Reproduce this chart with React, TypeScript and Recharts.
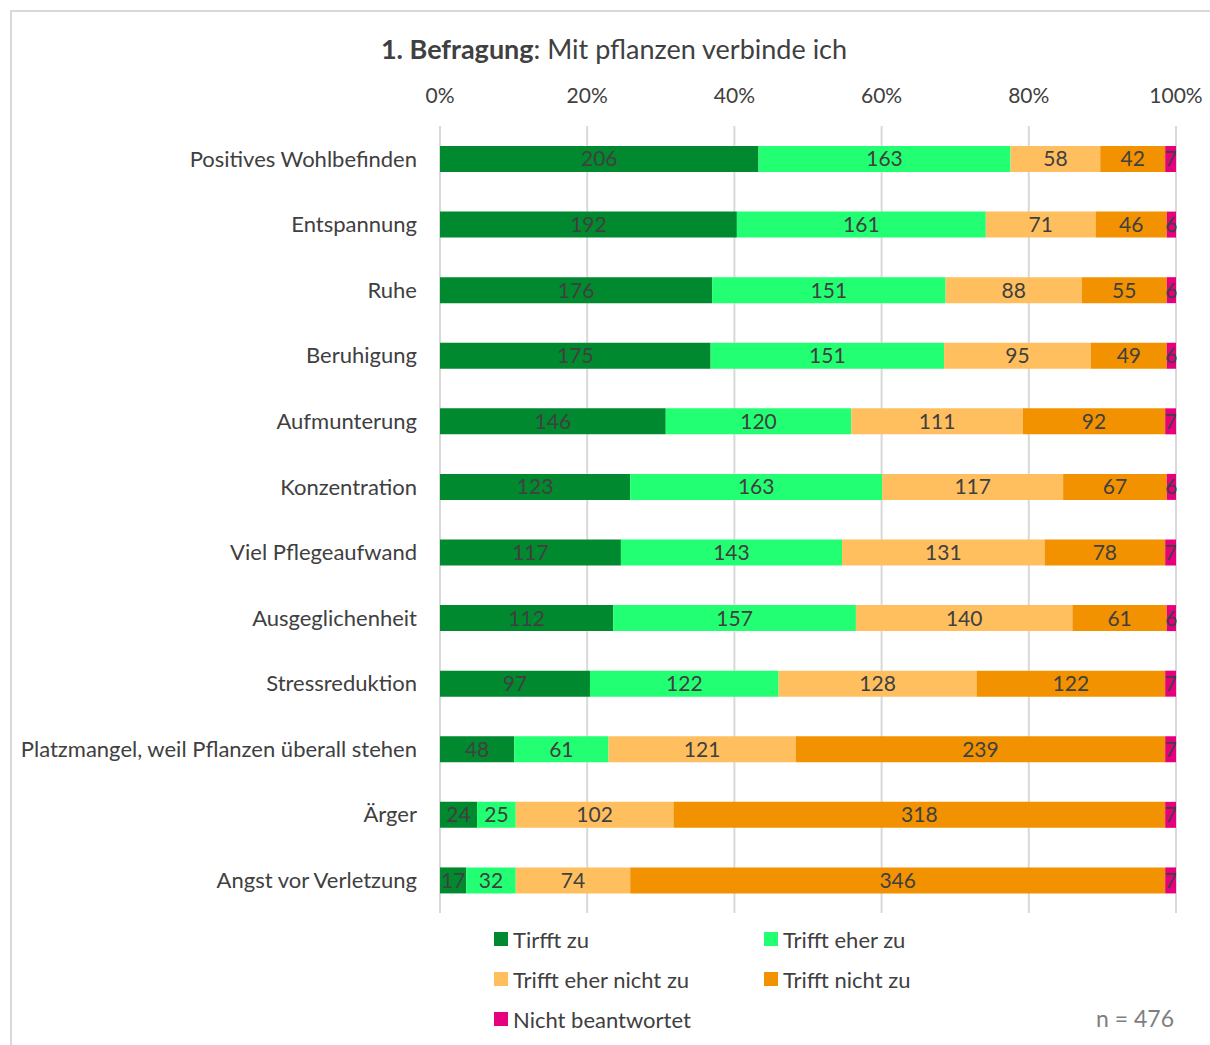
import React from 'react';
import { BarChart, Bar, XAxis, YAxis, CartesianGrid, LabelList, Legend } from 'recharts';

const categories = [
  'Positives Wohlbefinden',
  'Entspannung',
  'Ruhe',
  'Beruhigung',
  'Aufmunterung',
  'Konzentration',
  'Viel Pflegeaufwand',
  'Ausgeglichenheit',
  'Stressreduktion',
  'Platzmangel, weil Pflanzen überall stehen',
  'Ärger',
  'Angst vor Verletzung',
];

const triffZu = [206, 192, 176, 175, 146, 123, 117, 112, 97, 48, 24, 17];
const trifftEherZu = [163, 161, 151, 151, 120, 163, 143, 157, 122, 61, 25, 32];
const trifftEherNichtZu = [58, 71, 88, 95, 111, 117, 131, 140, 128, 121, 102, 74];
const trifftNichtZu = [42, 46, 55, 49, 92, 67, 78, 61, 122, 239, 318, 346];
const nichtBeantwortet = [7, 6, 6, 6, 7, 6, 7, 6, 7, 7, 7, 7];

const xTicks = [0, 0.2, 0.4, 0.6, 0.8, 1];

const series = [
  { key: 'a', name: 'Tirfft zu', color: '#00892F', values: triffZu },
  { key: 'b', name: 'Trifft eher zu', color: '#22FF72', values: trifftEherZu },
  { key: 'c', name: 'Trifft eher nicht zu', color: '#FFBF5F', values: trifftEherNichtZu },
  { key: 'd', name: 'Trifft nicht zu', color: '#F29200', values: trifftNichtZu },
  { key: 'e', name: 'Nicht beantwortet', color: '#E6007E', values: nichtBeantwortet },
];

const data = categories.map((name, i) => {
  const row: Record<string, string | number> = { name };
  series.forEach((s) => {
    row[s.key] = s.values[i];
  });
  return row;
});

const FONT = 'Lato, "Open Sans", "Noto Sans", sans-serif';
const TEXT = '#404040';

const LegendContent = () => (
  <div
    style={{
      display: 'grid',
      gridTemplateColumns: '270px 270px',
      rowGap: 14,
      fontFamily: FONT,
      fontSize: 22,
      color: TEXT,
    }}
  >
    {series.map((s) => (
      <div key={s.key} style={{ display: 'flex', alignItems: 'center', height: 26 }}>
        <span style={{ width: 14, height: 14, background: s.color, display: 'inline-block', marginRight: 5 }} />
        <span>{s.name}</span>
      </div>
    ))}
  </div>
);

const App: React.FC = () => {
  return (
    <div style={{ position: 'absolute', left: 0, top: 0, width: 1210, height: 1045, overflow: 'hidden', background: '#fff' }}>
      <div
        style={{
          position: 'absolute',
          left: 10,
          top: 10,
          width: 1220,
          height: 1060,
          border: '2px solid #d9d9d9',
          boxSizing: 'border-box',
        }}
      />
      <div
        style={{
          position: 'absolute',
          left: 0,
          width: 1228,
          top: 32,
          textAlign: 'center',
          fontFamily: FONT,
          fontSize: 27,
          color: TEXT,
        }}
      >
        <b>1. Befragung</b>: Mit pflanzen verbinde ich
      </div>
      <div style={{ position: 'absolute', left: 0, top: 0 }}>
        <BarChart
          width={1210}
          height={1045}
          data={data}
          layout="vertical"
          stackOffset="expand"
          barSize={26}
          margin={{ top: 86, right: 34, bottom: 26, left: 0 }}
        >
          <CartesianGrid horizontal={false} stroke="#d9d9d9" strokeWidth={2} />
          <XAxis
            type="number"
            orientation="top"
            domain={[0, 1]}
            ticks={xTicks}
            tickFormatter={(v: number) => `${Math.round(v * 100)}%`}
            axisLine={false}
            tickLine={false}
            tickSize={0}
            tickMargin={23}
            height={40}
            tick={{ fill: TEXT, fontSize: 21, fontFamily: FONT }}
          />
          <YAxis
            type="category"
            dataKey="name"
            width={440}
            axisLine={false}
            tickLine={false}
            tickSize={0}
            tickMargin={23}
            interval={0}
            tick={{ fill: TEXT, fontSize: 22, fontFamily: FONT }}
          />
          <Legend
            verticalAlign="bottom"
            content={<LegendContent />}
            wrapperStyle={{ left: 494, top: 926, width: 560 }}
          />
          {series.map((s) => (
            <Bar key={s.key} dataKey={s.key} name={s.name} stackId="1" fill={s.color} isAnimationActive={false}>
              <LabelList dataKey={s.key} position="center" fill={TEXT} fontSize={21} fontFamily={FONT} />
            </Bar>
          ))}
        </BarChart>
      </div>
      <div
        style={{
          position: 'absolute',
          right: 36,
          top: 1004,
          fontFamily: FONT,
          fontSize: 23,
          color: '#7f7f7f',
        }}
      >
        n = 476
      </div>
    </div>
  );
};

export default App;
